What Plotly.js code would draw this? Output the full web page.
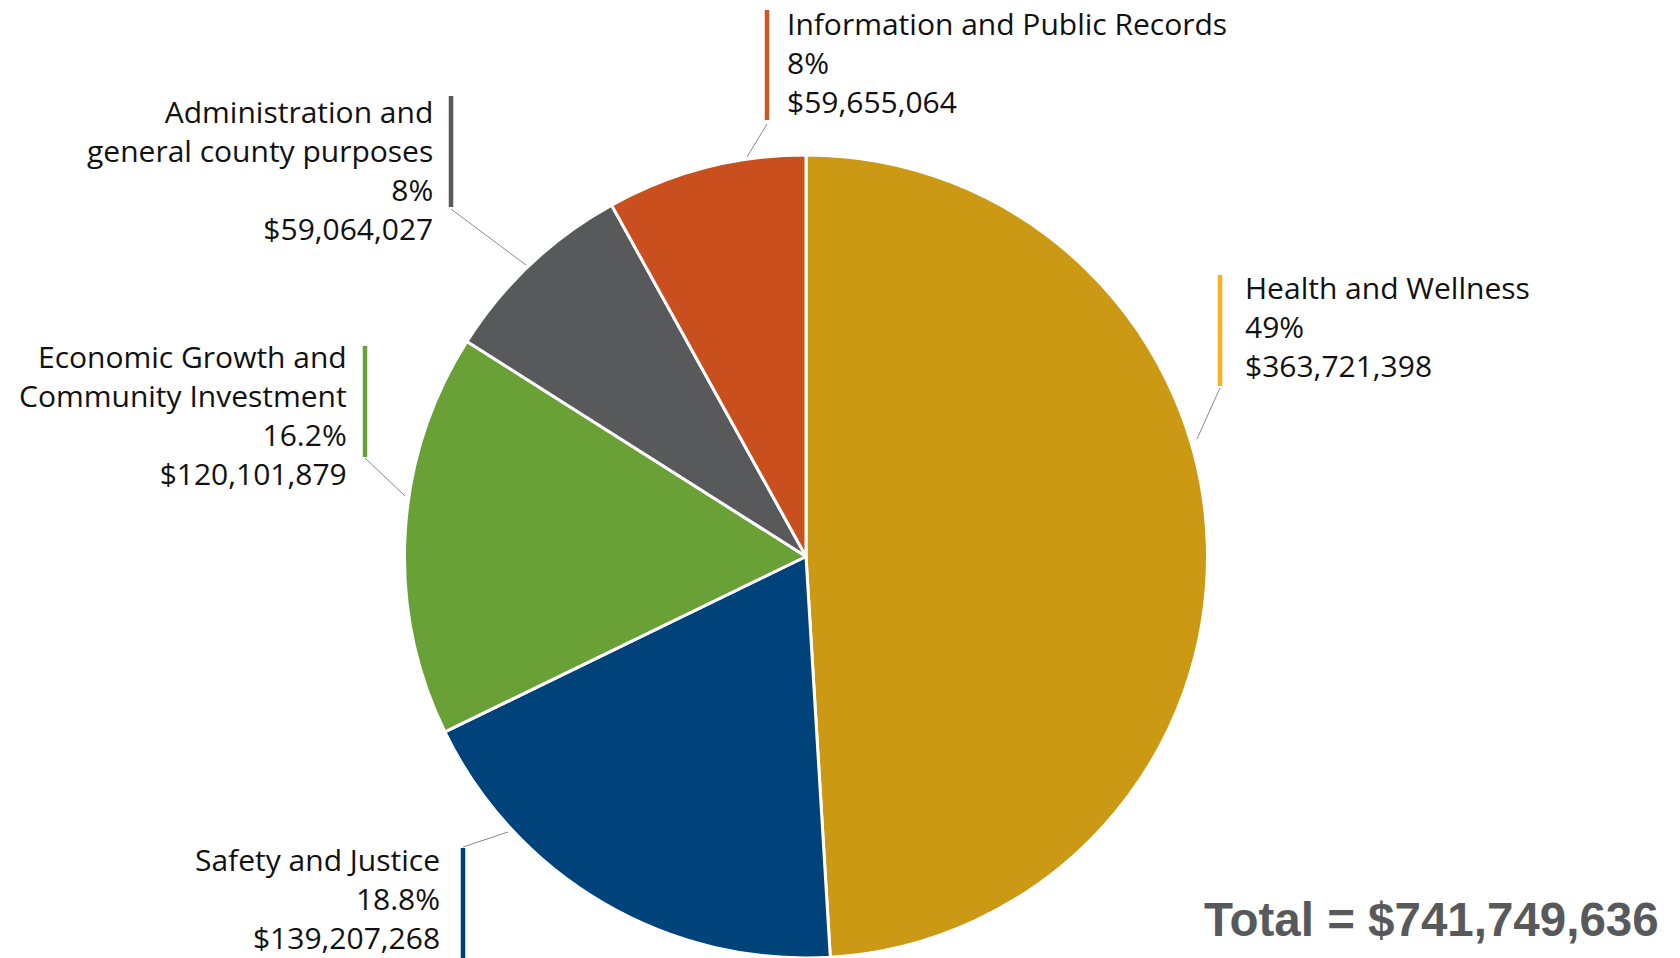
<!DOCTYPE html>
<html>
<head>
<meta charset="utf-8">
<script src="https://cdn.plot.ly/plotly-3.0.1.min.js"></script>
<style>
  html, body { margin: 0; padding: 0; background: #ffffff; }
  #chart { width: 1680px; height: 958px; }
</style>
</head>
<body>
<div id="chart"></div>
<script>
// ---- Data ----
const categories = [
  "Health and Wellness",
  "Safety and Justice",
  "Economic Growth and Community Investment",
  "Administration and general county purposes",
  "Information and Public Records"
];
const labelLines = [
  ["Health and Wellness"],
  ["Safety and Justice"],
  ["Economic Growth and", "Community Investment"],
  ["Administration and", "general county purposes"],
  ["Information and Public Records"]
];
const amounts = [363721398, 139207268, 120101879, 59064027, 59655064];
const percentLabels = ["49%", "18.8%", "16.2%", "8%", "8%"];
const totalAmount = 741749636;

// ---- Styles ----
const sliceColors = ["#CC9914", "#00427A", "#6AA137", "#58595B", "#C9501E"];
const barColors   = ["#F5B31C", "#003F7A", "#6AA137", "#58595B", "#D2561F"];

const W = 1680, H = 958;
const fx = p => p / W;
const fy = p => 1 - p / H;

// label layout (pixel positions of label blocks, bars and leader lines)
const labelLayout = [
  { tx: 1243, ty: 326.5, align: "left",  bar: [1220, 275, 1220, 386],  lead: [1220, 388, 1197, 439] },
  { tx: 442,  ty: 898.5, align: "right", bar: [463, 848, 463, 958],    lead: [463, 847, 508, 832] },
  { tx: 349,  ty: 415,   align: "right", bar: [365, 346, 365, 457],    lead: [365, 458, 405, 496] },
  { tx: 435,  ty: 170,   align: "right", bar: [451, 96, 451, 207],     lead: [451, 209, 526, 265] },
  { tx: 785,  ty: 62,    align: "left",  bar: [767, 10, 767, 120],     lead: [767, 124, 747, 157] }
];

const fmtMoney = v => "$" + v.toLocaleString("en-US");

const pieTrace = {
  type: "pie",
  labels: categories,
  values: amounts,
  sort: false,
  direction: "clockwise",
  rotation: 0,
  textinfo: "none",
  hoverinfo: "label+value+percent",
  marker: { colors: sliceColors, line: { color: "#ffffff", width: 3 } },
  domain: { x: [fx(404), fx(1208)], y: [0, fy(155)] },
  showlegend: false
};

const annotations = [];
const shapes = [];
categories.forEach((c, i) => {
  const L = labelLayout[i];
  const lines = labelLines[i].concat([percentLabels[i], fmtMoney(amounts[i])]);
  annotations.push({
    xref: "paper", yref: "paper",
    x: fx(L.tx), y: fy(L.ty),
    xanchor: L.align, yanchor: "middle", align: L.align,
    text: lines.join("<br>"),
    showarrow: false,
    font: { family: "Open Sans, Lato, sans-serif", size: 30, color: "#111111" }
  });
  shapes.push({
    type: "line", xref: "paper", yref: "paper",
    x0: fx(L.bar[0]), y0: fy(L.bar[1]), x1: fx(L.bar[2]), y1: fy(L.bar[3]),
    line: { color: barColors[i], width: 4.5 }
  });
  shapes.push({
    type: "line", xref: "paper", yref: "paper",
    x0: fx(L.lead[0]), y0: fy(L.lead[1]), x1: fx(L.lead[2]), y1: fy(L.lead[3]),
    line: { color: "#8a8a8a", width: 1 }
  });
});

annotations.push({
  xref: "paper", yref: "paper",
  x: fx(1661), y: fy(919),
  xanchor: "right", yanchor: "middle",
  text: "<b>Total = " + fmtMoney(totalAmount) + "</b>",
  showarrow: false,
  font: { family: "Liberation Sans, Arial, sans-serif", size: 47.5, color: "#58595B" }
});

const layout = {
  width: W, height: H,
  margin: { l: 0, r: 0, t: 0, b: 0 },
  paper_bgcolor: "#ffffff",
  plot_bgcolor: "#ffffff",
  showlegend: false,
  annotations: annotations,
  shapes: shapes
};

Plotly.newPlot("chart", [pieTrace], layout, { displayModeBar: false, staticPlot: true });
</script>
</body>
</html>
